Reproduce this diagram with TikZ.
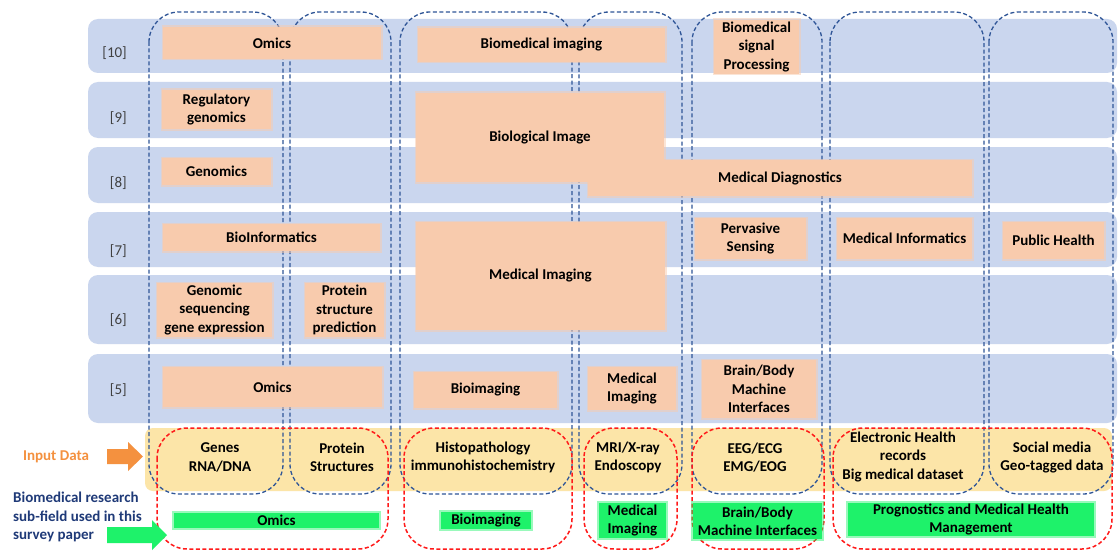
\documentclass[tikz,border=0pt]{standalone}
\usepackage{fontspec}
\setmainfont{Carlito}
\definecolor{rowblue}{HTML}{CAD6EE}
\definecolor{inyellow}{HTML}{FCE5A8}
\definecolor{boxorange}{HTML}{F8CBAD}
\definecolor{boxgreen}{HTML}{1EF26A}
\definecolor{dashblue}{HTML}{2F5597}
\definecolor{dashred}{HTML}{FF1A1A}
\definecolor{labelgray}{HTML}{404040}
\definecolor{inputorange}{HTML}{F4913F}
\definecolor{navytext}{HTML}{1F3A78}
\begin{document}
\begin{tikzpicture}[x=1pt,y=-1pt,
  every node/.style={font=\fontsize{15}{18.4}\selectfont\bfseries, align=center, inner sep=0pt, text=black},
  rowband/.style={fill=rowblue, rounded corners=10pt},
  inband/.style={fill=inyellow, rounded corners=8pt},
  bluecol/.style={draw=dashblue, line width=1.3pt, dash pattern=on 4pt off 2.5pt, rounded corners=30pt},
  redcol/.style={draw=dashred, line width=1.5pt, dash pattern=on 4pt off 2.5pt, rounded corners=30pt},
  obox/.style={fill=boxorange, draw=boxorange, draw opacity=0.5, line width=3pt},
  gbox/.style={fill=boxgreen, draw=boxgreen, draw opacity=0.45, line width=4pt},
  rowlabel/.style={font=\fontsize{15}{18.4}\selectfont, text=labelgray, anchor=east}
]
\useasboundingbox (0,0) rectangle (1120,551);
\fill[white] (0,0) rectangle (1120,551);

% row bands
\path[rowband] (88,19) rectangle (1117,73);
\path[rowband] (88,82) rectangle (1117,138);
\path[rowband] (88,147) rectangle (1117,203);
\path[rowband] (88,212) rectangle (1117,267);
\path[rowband] (88,275) rectangle (1117,344);
\path[rowband] (88,354) rectangle (1117,423);
% input band
\path[inband] (145,428) rectangle (1112,491);

% blue dashed columns
\draw[bluecol] (149,12) rectangle (283,494);
\draw[bluecol] (290,12) rectangle (391,494);
\draw[bluecol] (400,12) rectangle (572,494);
\draw[bluecol] (579,12) rectangle (682,494);
\draw[bluecol] (692,12) rectangle (822,494);
\draw[bluecol] (830,12) rectangle (984,494);
\draw[bluecol] (989,12) rectangle (1113,494);

% orange boxes
\node[obox, minimum width=218pt, minimum height=32pt] (om10) at (272,43) {Omics};
\node[obox, minimum width=247pt, minimum height=34pt] (bmi) at (541.5,45) {Biomedical imaging};
\node[obox, minimum width=85pt, minimum height=54pt] (bsp) at (756.5,47) {Biomedical\\signal\\Processing};
\node[obox, minimum width=109pt, minimum height=39pt] (rg) at (216.5,109.5) {Regulatory\\genomics};
\node[obox, minimum width=109pt, minimum height=27pt] (gen) at (216.5,171.5) {Genomics};
\node[obox, minimum width=248pt, minimum height=89pt] (bio) at (540,137.5) {Biological Image};
\node[obox, minimum width=384pt, minimum height=36pt] (mdx) at (780,178) {Medical Diagnostics};
\node[obox, minimum width=217pt, minimum height=27pt] (binf) at (271.5,237.5) {BioInformatics};
\node[obox, minimum width=249pt, minimum height=108pt] (mimg) at (540.5,276) {Medical Imaging};
\node[obox, minimum width=111pt, minimum height=41pt] (pvs) at (750.5,238.5) {Pervasive\\Sensing};
\node[obox, minimum width=135pt, minimum height=41pt] (minf) at (904.5,238.5) {Medical Informatics};
\node[obox, minimum width=101pt, minimum height=37pt] (ph) at (1053.5,240.5) {Public Health};
\node[obox, minimum width=115pt, minimum height=54pt] (gsq) at (214.5,310) {Genomic\\sequencing\\gene expression};
\node[obox, minimum width=79pt, minimum height=54pt] (psp) at (344.5,310) {Protein\\structure\\prediction};
\node[obox, minimum width=219pt, minimum height=40pt] (om5) at (272.5,387) {Omics};
\node[obox, minimum width=143pt, minimum height=36pt] (bimg) at (485.5,390) {Bioimaging};
\node[obox, minimum width=88pt, minimum height=43pt] (mimg5) at (632,388.5) {Medical\\Imaging};
\node[obox, minimum width=114pt, minimum height=58pt] (bbmi) at (759,389) {Brain/Body\\Machine\\Interfaces};

% red dashed groups
\draw[redcol] (157,428) rectangle (388,549);
\draw[redcol] (404,428) rectangle (572,549);
\draw[redcol] (584,428) rectangle (677,549);
\draw[redcol] (692,428) rectangle (824,549);
\draw[redcol] (833,428) rectangle (1112,549);

% green boxes
\node[gbox, minimum width=205pt, minimum height=15pt] (g1) at (276.5,520.5) {Omics};
\node[gbox, minimum width=90pt, minimum height=17pt] (g2) at (486,520.5) {Bioimaging};
\node[gbox, minimum width=67pt, minimum height=35pt] (g3) at (632.5,520.5) {Medical\\Imaging};
\node[gbox, minimum width=129pt, minimum height=36pt] (g4) at (757.5,521) {Brain/Body\\Machine Interfaces};
\node[gbox, minimum width=246pt, minimum height=33pt] (g5) at (971,519.5) {Prognostics and Medical Health\\Management};

% input data texts
\node (t1) at (220,457.5) {Genes\\RNA/DNA};
\node (t2) at (342,457.5) {Protein\\Structures};
\node (t3) at (483,457.5) {Histopathology\\immunohistochemistry};
\node (t4) at (628,457.5) {MRI/X-ray\\Endoscopy};
\node (t5) at (755,457.5) {EEG/ECG\\EMG/EOG};
\node (t6) at (903,457) {Electronic Health\\records\\Big medical dataset};
\node (t7) at (1052,457.5) {Social media\\Geo-tagged data};

% row labels
\node[rowlabel] (l10) at (127,53) {[10]};
\node[rowlabel] (l9) at (127,118) {[9]};
\node[rowlabel] (l8) at (127,183) {[8]};
\node[rowlabel] (l7) at (127,251) {[7]};
\node[rowlabel] (l6) at (127,320) {[6]};
\node[rowlabel] (l5) at (127,390) {[5]};

% left legend
\node[text=inputorange] (inlab) at (56,457) {Input Data};
\node[text=navytext, align=left, anchor=west] (sflab) at (13,517) {Biomedical research\\sub-field used in this\\survey paper};
\fill[inputorange] (107,449) -- (128,449) -- (128,442) -- (143,456.5) -- (128,471) -- (128,464) -- (107,464) -- cycle;
\fill[boxgreen] (107,527) -- (152,527) -- (152,520) -- (167,535) -- (152,550) -- (152,543) -- (107,543) -- cycle;
\end{tikzpicture}
\end{document}
